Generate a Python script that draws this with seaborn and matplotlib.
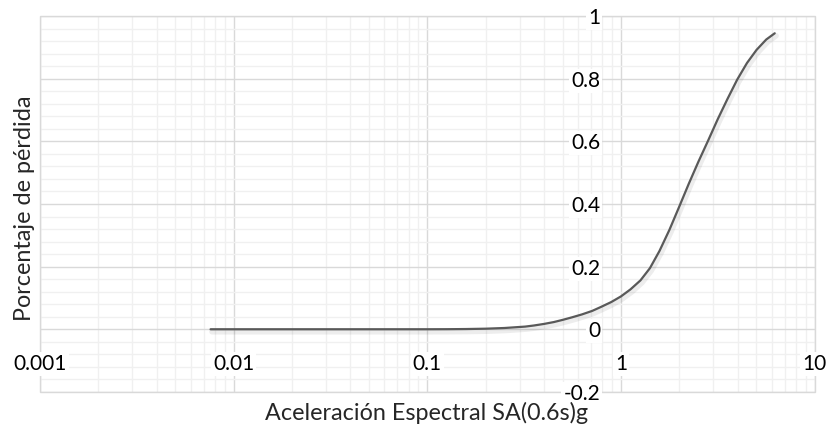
import numpy as np
import seaborn as sns
import matplotlib.pyplot as plt
import matplotlib.ticker as mticker
import matplotlib.patheffects as pe
from matplotlib.patches import Rectangle

# curve: spectral acceleration (g) vs loss fraction
sa_g = [0.0076, 0.01, 0.03, 0.1, 0.126, 0.158, 0.2, 0.25, 0.32, 0.355, 0.4, 0.45,
        0.5, 0.56, 0.63, 0.71, 0.79, 0.89, 1.0, 1.12, 1.26, 1.41, 1.58, 1.78,
        2.0, 2.24, 2.51, 2.82, 3.16, 3.55, 3.98, 4.47, 5.01, 5.62, 6.22]
loss = [0.0, 0.0, 0.0, 0.0, 0.0002, 0.0007, 0.0018, 0.004, 0.0085, 0.012, 0.017, 0.023,
        0.030, 0.0383, 0.0476, 0.0586, 0.0716, 0.0868, 0.105, 0.1275, 0.156, 0.195, 0.25, 0.318,
        0.392, 0.465, 0.535, 0.603, 0.671, 0.736, 0.797, 0.85, 0.892, 0.925, 0.945]

x_ticks = [0.001, 0.01, 0.1, 1, 10]
x_tick_labels = ["0.001", "0.01", "0.1", "1", "10"]
y_ticks = [-0.2, 0, 0.2, 0.4, 0.6, 0.8, 1]
y_tick_labels = ["-0.2", "0", "0.2", "0.4", "0.6", "0.8", "1"]

sns.set_style("white")
plt.rcParams['font.family'] = ['Lato', 'DejaVu Sans']

fig = plt.figure(figsize=(8.33, 4.34), dpi=100)
pos = [0.048, 0.097, 0.930, 0.866]
ax = fig.add_axes(pos)

sns.lineplot(x=sa_g, y=loss, ax=ax, color="#595959", linewidth=1.6,
             estimator=None, sort=True, solid_joinstyle="round",
             path_effects=[pe.SimpleLineShadow(offset=(1.0, -1.8), shadow_color="#000000",
                                               alpha=0.07, linewidth=4),
                           pe.Normal()])

ax.set_xscale("log")
ax.set_xlim(0.001, 10)
ax.set_ylim(-0.2, 1)

ax.xaxis.set_major_locator(mticker.FixedLocator(x_ticks))
ax.xaxis.set_major_formatter(mticker.FixedFormatter(x_tick_labels))
ax.xaxis.set_minor_locator(mticker.LogLocator(base=10, subs=np.arange(2, 10)))
ax.xaxis.set_minor_formatter(mticker.NullFormatter())
ax.yaxis.set_major_locator(mticker.FixedLocator(y_ticks))
ax.yaxis.set_major_formatter(mticker.FixedFormatter(y_tick_labels))
ax.yaxis.set_minor_locator(mticker.MultipleLocator(0.04))
ax.yaxis.set_minor_formatter(mticker.NullFormatter())

ax.grid(which="major", color="#d9d9d9", linewidth=1.0)
ax.grid(which="minor", color="#f0f0f0", linewidth=1.0)
ax.set_axisbelow(True)
for s in ax.spines.values():
    s.set_visible(False)
ax.add_patch(Rectangle((0, 0), 1, 1, transform=ax.transAxes, fill=False,
                       edgecolor="#d9d9d9", linewidth=1.0, clip_on=False, zorder=0.6))
ax.tick_params(axis="both", which="both", length=0, labelbottom=False, labelleft=False)
ax.set_xlabel("")
ax.set_ylabel("")

# overlay axes for the tick labels, crossing at x=1 and y=0 as in the spreadsheet chart
lab = fig.add_axes(pos, sharex=ax, sharey=ax)
lab.patch.set_visible(False)
lab.grid(False)
lab.spines["left"].set_position(("data", 1))
lab.spines["bottom"].set_position(("data", 0))
for s in lab.spines.values():
    s.set_visible(False)
lab.tick_params(axis="both", which="both", length=0, labelsize=15, colors="#000000")
lab.tick_params(axis="y", pad=15)
lab.tick_params(axis="x", pad=18)
for t in lab.get_xticklabels() + lab.get_yticklabels():
    t.set_bbox(dict(facecolor="white", edgecolor="none", pad=1.5))

fig.text(0.512, 0.032, "Aceleración Espectral SA(0.6s)g", ha="center", va="baseline", fontsize=16.8)
fig.text(0.030, 0.52, "Porcentaje de pérdida", ha="center", va="center", rotation=90, fontsize=16.8)

fig.savefig("out.png", dpi=100)
